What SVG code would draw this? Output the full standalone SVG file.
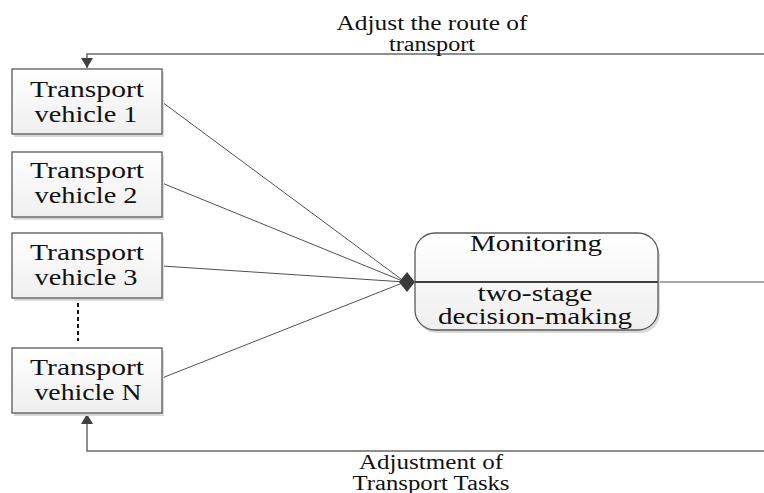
<svg xmlns="http://www.w3.org/2000/svg" width="764" height="493" viewBox="0 0 764 493">
<defs>
<linearGradient id="fill" x1="0" y1="0" x2="0" y2="1">
<stop offset="0" stop-color="#ffffff"/>
<stop offset="1" stop-color="#efefef"/>
</linearGradient>
<marker id="arr" viewBox="0 0 10 12" refX="10" refY="6" markerWidth="10" markerHeight="12" markerUnits="userSpaceOnUse" orient="auto">
<path d="M0,0 L10,6 L0,12 Z" fill="#404040"/>
</marker>
</defs>
<style>
.box{fill:url(#fill);stroke:#595959;stroke-width:1.3}
.shadow{fill:#d9d9d9}
.t{font-family:"Liberation Serif","Times New Roman",serif;font-size:23px;fill:#111;text-anchor:middle}
.l{font-family:"Liberation Serif","Times New Roman",serif;font-size:20px;fill:#111;text-anchor:middle}
.c{fill:none;stroke:#505050;stroke-width:1}
.fb{fill:none;stroke:#6a6a6a;stroke-width:1.5}
</style>
<g id="connectors">
<polyline class="fb" points="764,54 87,54 87,68" marker-end="url(#arr)"/>
<polyline class="fb" points="764,451 87,451 87,414" marker-end="url(#arr)"/>
<line class="c" x1="162" y1="102" x2="405" y2="282"/>
<line class="c" x1="162" y1="183" x2="405" y2="282"/>
<line class="c" x1="162" y1="266" x2="405" y2="282"/>
<line class="c" x1="162" y1="378" x2="405" y2="282"/>
<path d="M399,282 L407,272 L415,282 L407,292 Z" fill="#3a3a3a"/>
<line x1="78" y1="303" x2="78" y2="341" stroke="#111" stroke-width="2" stroke-dasharray="4,3"/>
<line x1="658" y1="282" x2="764" y2="282" stroke="#505050" stroke-width="1"/>
</g>
<g id="vehicle1">
<rect class="shadow" x="14" y="72" width="150" height="65"/>
<rect class="box" x="12" y="69" width="150" height="65"/>
<text class="t" x="87" y="97" textLength="114" lengthAdjust="spacingAndGlyphs">Transport</text>
<text class="t" x="86" y="122" textLength="103" lengthAdjust="spacingAndGlyphs">vehicle 1</text>
</g>
<g id="vehicle2">
<rect class="shadow" x="14" y="155" width="150" height="65"/>
<rect class="box" x="12" y="152" width="150" height="65"/>
<text class="t" x="87" y="178" textLength="114" lengthAdjust="spacingAndGlyphs">Transport</text>
<text class="t" x="86" y="203" textLength="103" lengthAdjust="spacingAndGlyphs">vehicle 2</text>
</g>
<g id="vehicle3">
<rect class="shadow" x="14" y="236" width="150" height="65"/>
<rect class="box" x="12" y="233" width="150" height="65"/>
<text class="t" x="87" y="260" textLength="114" lengthAdjust="spacingAndGlyphs">Transport</text>
<text class="t" x="86" y="285" textLength="103" lengthAdjust="spacingAndGlyphs">vehicle 3</text>
</g>
<g id="vehicleN">
<rect class="shadow" x="14" y="351" width="150" height="65"/>
<rect class="box" x="12" y="348" width="150" height="65"/>
<text class="t" x="87" y="375" textLength="114" lengthAdjust="spacingAndGlyphs">Transport</text>
<text class="t" x="88" y="400" textLength="107" lengthAdjust="spacingAndGlyphs">vehicle N</text>
</g>
<g id="monitoring">
<rect class="shadow" x="417" y="236" width="243" height="97" rx="20"/>
<rect class="box" x="415" y="233" width="243" height="97" rx="20"/>
<line x1="415" y1="282" x2="658" y2="282" stroke="#404040" stroke-width="2"/>
<text class="t" x="536" y="251" textLength="132" lengthAdjust="spacingAndGlyphs">Monitoring</text>
<text class="t" x="535" y="301" textLength="115" lengthAdjust="spacingAndGlyphs">two-stage</text>
<text class="t" x="535" y="324" textLength="194" lengthAdjust="spacingAndGlyphs">decision-making</text>
</g>
<g id="labels">
<text class="l" x="432" y="30" textLength="191" lengthAdjust="spacingAndGlyphs">Adjust the route of</text>
<text class="l" x="432" y="51" textLength="86" lengthAdjust="spacingAndGlyphs">transport</text>
<text class="l" x="431" y="469" textLength="144" lengthAdjust="spacingAndGlyphs">Adjustment of</text>
<text class="l" x="431" y="490" textLength="157" lengthAdjust="spacingAndGlyphs">Transport Tasks</text>
</g>
</svg>
